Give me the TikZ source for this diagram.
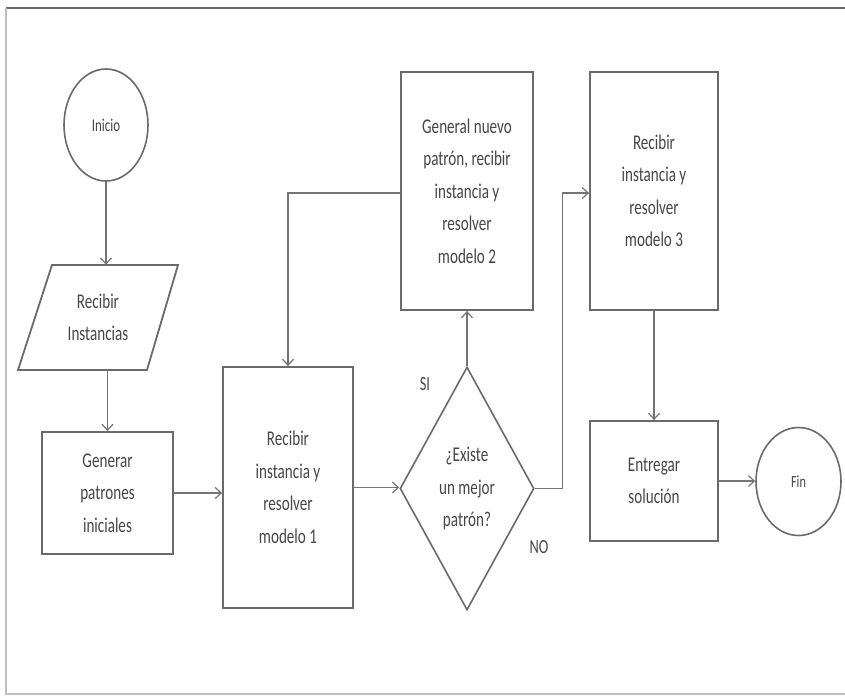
\documentclass[tikz,border=0pt]{standalone}
\usepackage{fontspec}
\setmainfont{Carlito}[FakeStretch=0.72]
\usetikzlibrary{shapes.geometric,arrows.meta}
\definecolor{boxline}{HTML}{6A6A6A}
\definecolor{txt}{HTML}{464646}
\definecolor{arr}{HTML}{747474}
\tikzset{
  every node/.style={text=txt},
  boxtxt/.style={font=\fontsize{21}{32.5}\selectfont, align=center},
  proc/.style={draw=boxline, line width=1.8pt, rectangle, inner sep=0pt, fill=white, boxtxt},
  term/.style={draw=boxline, line width=1.6pt, ellipse, inner sep=0pt, font=\fontsize{18}{20}\selectfont},
  conn/.style={draw=arr, line width=1.3pt, -{Straight Barb[length=6pt,width=11pt,line width=1.2pt]}},
  lbl/.style={font=\fontsize{20}{22}\selectfont}
}
\begin{document}
\begin{tikzpicture}[x=1pt,y=-1pt]
\useasboundingbox (0,0) rectangle (845,697);
% frame
\draw[draw=black!60, line width=2.8pt] (6,8) -- (845,8);
\draw[draw=black!25, line width=1.2pt] (6,8) -- (6,694) -- (845,694);

% nodes
\node[term, minimum width=84pt, minimum height=112pt] (inicio) at (106,125) {Inicio};
\draw[draw=boxline, line width=1.8pt] (52,265) -- (178,265) -- (147,370) -- (18,370) -- cycle;
\node[boxtxt, minimum width=100pt, minimum height=105pt, inner sep=0pt] (recibir) at (98,317.5) {Recibir\\Instancias};
\node[proc, minimum width=131pt, minimum height=122pt] (generar) at (107.5,493) {Generar\\patrones\\iniciales};
\node[proc, minimum width=130pt, minimum height=241pt] (m1) at (288,487.5) {Recibir\\instancia y\\resolver\\modelo 1};
\node[draw=boxline, line width=1.6pt, diamond, minimum width=134pt, minimum height=243pt, inner sep=0pt] (dec) at (467,488.5) {};
\node[boxtxt] (dectxt) at (dec.center) {¿Existe\\un mejor\\patrón?};
\node[proc, minimum width=132pt, minimum height=238pt] (m2) at (467,191) {General nuevo\\patrón, recibir\\instancia y\\resolver\\modelo 2};
\node[proc, minimum width=128pt, minimum height=238pt] (m3) at (654,191) {Recibir\\instancia y\\resolver\\modelo 3};
\node[proc, minimum width=128pt, minimum height=120pt] (ent) at (654,481) {Entregar\\solución};
\node[term, font=\fontsize{17}{20}\selectfont, minimum width=85pt, minimum height=108pt] (fin) at (798.5,481.5) {Fin};
\node[lbl] (si) at (425,384) {SI};
\node[lbl] (no) at (539,547) {NO};

% connectors
\draw[conn] (inicio.south) -- (inicio.south |- recibir.north);
\draw[conn] (generar.north |- recibir.south) -- (generar.north);
\draw[conn] (generar.east) -- (generar.east -| m1.west);
\draw[conn] (m1.east) -- (m1.east -| dec.west);
\draw[conn] (dec.north) -- (m2.south);
\draw[conn] (m2.west |- 0,193) -| (m1.north);
\draw[conn] (dec.east) -- ++(28,0) |- (m3.west |- 0,193);
\draw[conn] (m3.south) -- (ent.north);
\draw[conn] (ent.east) -- (ent.east -| fin.west);
\end{tikzpicture}
\end{document}
